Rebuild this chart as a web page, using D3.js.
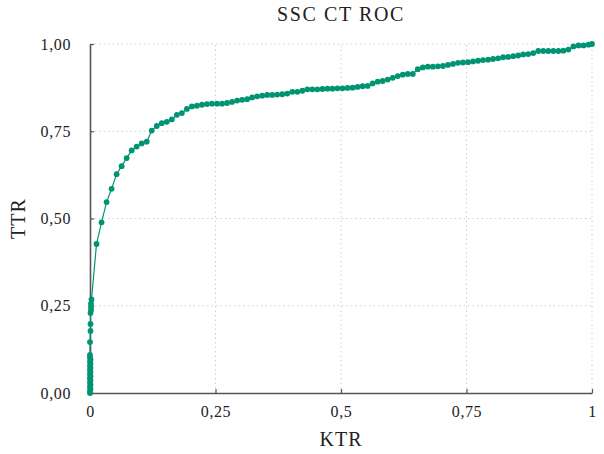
<!DOCTYPE html>
<html>
<head>
<meta charset="utf-8">
<script src="https://cdn.jsdelivr.net/npm/d3@7"></script>
<style>
  body { margin: 0; background: #fff; }
  svg text { font-family: 'Liberation Serif', serif !important; fill: #222; }
</style>
</head>
<body>
<div id="chart"></div>
<script>
// >-----------------< Data >-------------------<
const title = "SSC CT ROC";
const xLabel = "KTR";
const yLabel = "TTR";

const xTicks = [0, 0.25, 0.5, 0.75, 1];
const xTickLabels = ["0", "0,25", "0,5", "0,75", "1"];
const yTicks = [0, 0.25, 0.5, 0.75, 1];
const yTickLabels = ["0,00", "0,25", "0,50", "0,75", "1,00"];

// points stacked on KTR = 0
const ktrStart = [0, 0, 0.001, 0, 0.001, 0, 0.001, 0, 0.001, 0, 0.001, 0, 0.001, 0, 0.001, 0, 0.001, 0, 0, 0, 0.001, 0.001, 0.001, 0.002, 0.002, 0.002];
const ttrStart = [0, 0.006, 0.012, 0.018, 0.024, 0.030, 0.036, 0.042, 0.048, 0.054, 0.060, 0.066, 0.072, 0.078, 0.084, 0.090, 0.096, 0.102, 0.109, 0.146, 0.178, 0.198, 0.229, 0.238, 0.247, 0.256];

const ktrMain = [0.003, 0.013, 0.023, 0.033, 0.043, 0.053, 0.063, 0.073, 0.083, 0.093,
  0.103, 0.113, 0.123, 0.133, 0.143, 0.153, 0.163, 0.173, 0.183, 0.193,
  0.203, 0.213, 0.223, 0.233, 0.243, 0.253, 0.263, 0.273, 0.283, 0.293,
  0.303, 0.313, 0.323, 0.333, 0.343, 0.353, 0.363, 0.373, 0.383, 0.393,
  0.403, 0.413, 0.423, 0.433, 0.443, 0.453, 0.463, 0.473, 0.483, 0.493,
  0.503, 0.513, 0.523, 0.533, 0.543, 0.553, 0.563, 0.573, 0.583, 0.593,
  0.603, 0.613, 0.623, 0.633, 0.643, 0.653, 0.663, 0.673, 0.683, 0.693,
  0.703, 0.713, 0.723, 0.733, 0.743, 0.753, 0.763, 0.773, 0.783, 0.793,
  0.803, 0.813, 0.823, 0.833, 0.843, 0.853, 0.863, 0.873, 0.883, 0.893,
  0.903, 0.913, 0.923, 0.933, 0.943, 0.953, 0.963, 0.973, 0.983, 0.993, 1.000];
const ttrMain = [0.268, 0.427, 0.489, 0.547, 0.585, 0.627, 0.650, 0.673, 0.695, 0.706,
  0.715, 0.720, 0.752, 0.765, 0.773, 0.777, 0.784, 0.797, 0.802, 0.814,
  0.821, 0.823, 0.826, 0.828, 0.829, 0.829, 0.829, 0.831, 0.834, 0.838,
  0.840, 0.842, 0.847, 0.850, 0.852, 0.854, 0.854, 0.855, 0.856, 0.858,
  0.863, 0.863, 0.866, 0.870, 0.870, 0.870, 0.871, 0.872, 0.872, 0.873,
  0.873, 0.874, 0.875, 0.877, 0.879, 0.880, 0.887, 0.892, 0.894, 0.898,
  0.903, 0.908, 0.912, 0.914, 0.914, 0.928, 0.933, 0.935, 0.935, 0.936,
  0.937, 0.940, 0.943, 0.946, 0.947, 0.948, 0.950, 0.952, 0.954, 0.955,
  0.957, 0.959, 0.962, 0.963, 0.965, 0.967, 0.970, 0.971, 0.974, 0.980,
  0.980, 0.980, 0.980, 0.980, 0.981, 0.984, 0.993, 0.996, 0.996, 0.998, 1.000];

// >-----------------< Config >-------------------<
const width = 604, height = 454;
const margin = {top: 44, right: 12, bottom: 61, left: 90};
const color = "#009473";

const points = ktrStart.map((k, i) => ({x: k, y: ttrStart[i]}))
  .concat(ktrMain.map((k, i) => ({x: k, y: ttrMain[i]})));

const svg = d3.select("#chart").append("svg")
  .attr("width", width)
  .attr("height", height);

const x = d3.scaleLinear().domain([0, 1]).range([margin.left, width - margin.right]);
const y = d3.scaleLinear().domain([0, 1]).range([height - margin.bottom, margin.top]);

// grid
svg.append("g")
  .selectAll("line")
  .data(xTicks.slice(1))
  .enter().append("line")
  .attr("x1", d => x(d)).attr("x2", d => x(d))
  .attr("y1", y(0)).attr("y2", y(1))
  .attr("stroke", "#cfcfcf")
  .attr("stroke-dasharray", "1.5,3");

svg.append("g")
  .selectAll("line")
  .data(yTicks.slice(1))
  .enter().append("line")
  .attr("x1", x(0)).attr("x2", x(1))
  .attr("y1", d => y(d)).attr("y2", d => y(d))
  .attr("stroke", "#cfcfcf")
  .attr("stroke-dasharray", "1.5,3");

// axes
const xAxis = svg.append("g")
  .attr("transform", `translate(0,${y(0)})`)
  .call(d3.axisBottom(x).tickValues(xTicks).tickFormat((d, i) => xTickLabels[i]).tickSizeInner(-4).tickSizeOuter(0).tickPadding(13));

const yAxis = svg.append("g")
  .attr("transform", `translate(${x(0)},0)`)
  .call(d3.axisLeft(y).tickValues(yTicks).tickFormat((d, i) => yTickLabels[i]).tickSizeInner(-4).tickSizeOuter(0).tickPadding(19));

[xAxis, yAxis].forEach(a => {
  a.attr("font-family", null);
  a.select(".domain").attr("stroke", "#555").attr("stroke-width", 1.6);
  a.selectAll(".tick line").attr("stroke", "#555").attr("stroke-width", 1.2);
  a.selectAll(".tick text")
    .attr("font-size", 16)
    .attr("letter-spacing", 0.6)
    .attr("fill", "#222");
});

// line + dots
svg.append("path")
  .datum(points)
  .attr("d", d3.line().x(d => x(d.x)).y(d => y(d.y)))
  .attr("fill", "none")
  .attr("stroke", color)
  .attr("stroke-width", 1.2);

svg.append("g")
  .selectAll("circle")
  .data(points)
  .enter().append("circle")
  .attr("cx", d => x(d.x))
  .attr("cy", d => y(d.y))
  .attr("r", 2.9)
  .attr("fill", color);

// labels
svg.append("text")
  .attr("x", (x(0) + x(1)) / 2)
  .attr("y", 21)
  .attr("text-anchor", "middle")
  .attr("font-size", 20)
  .attr("letter-spacing", 1.6)
  .text(title);

svg.append("text")
  .attr("x", (x(0) + x(1)) / 2)
  .attr("y", 446)
  .attr("text-anchor", "middle")
  .attr("font-size", 20)
  .attr("letter-spacing", 1)
  .text(xLabel);

svg.append("text")
  .attr("transform", `translate(25,${(y(0) + y(1)) / 2}) rotate(-90)`)
  .attr("text-anchor", "middle")
  .attr("font-size", 20)
  .attr("letter-spacing", 1)
  .text(yLabel);
</script>
</body>
</html>
